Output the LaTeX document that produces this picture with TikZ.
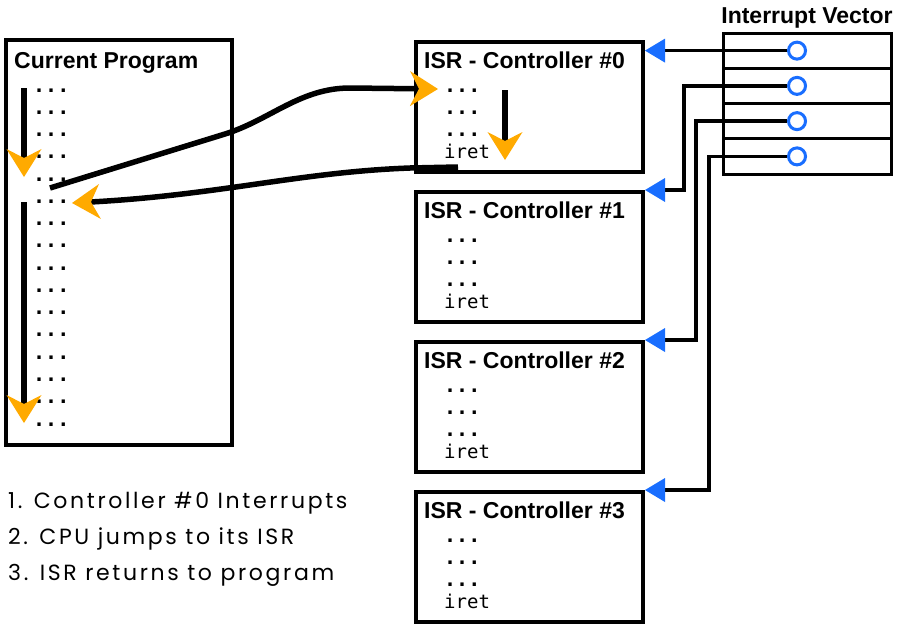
\documentclass[tikz,border=0pt]{standalone}
\usepackage{fontspec}
\setmainfont{Liberation Sans}
\newfontfamily\codefont{DejaVu Sans Mono}
\newfontfamily\notefont{Poppins}[LetterSpace=12]
\usetikzlibrary{arrows.meta}

\definecolor{flowor}{RGB}{255,170,0}
\definecolor{vecblue}{RGB}{25,110,255}

\tikzset{
  ochev/.tip={Stealth[length=28pt,width=35pt,inset=9pt,line width=0pt,color=flowor]},
  btri/.tip={Triangle[length=20pt,width=24pt,line width=0pt,color=vecblue]},
  panel/.style={draw=black,line width=4pt,fill=white,inner sep=0pt},
  slot/.style={draw=black,line width=3pt,fill=white,inner sep=0pt,minimum width=168pt,minimum height=35.25pt},
  port/.style={circle,draw=vecblue,line width=3pt,fill=white,inner sep=0pt,minimum size=17pt},
  heading/.style={font=\fontsize{23}{27}\selectfont\bfseries,inner sep=0pt,anchor=base west},
  code/.style={font=\codefont\fontsize{19}{22}\selectfont,inner sep=0pt,anchor=base west},
  dots/.style={font=\codefont\fontsize{20}{22}\selectfont\bfseries,inner sep=0pt,anchor=base west},
  note/.style={font=\notefont\fontsize{22}{26}\selectfont,inner sep=0pt,anchor=base west},
  flow/.style={draw=black,line width=5.5pt},
  link/.style={draw=black,line width=3.5pt,-btri},
}

\begin{document}
\begin{tikzpicture}[x=1pt,y=-1pt]
\useasboundingbox (0,0) rectangle (899,632);

% main program listing
\node[panel,minimum width=226pt,minimum height=405pt] (prog) at (119,242.5) {};
\node[heading] (progtitle) at (14,68) {Current Program};
\foreach \r in {0,...,15}
  \node[dots] (pl\r) at (33,{92+22.27*\r}) {...};

% interrupt service routines
\foreach \i/\y in {0/42,1/192,2/342,3/492}{
  \node[panel,minimum width=227pt,minimum height=130pt] (isr\i) at (529.5,\y+65) {};
  \node[heading] (isrtitle\i) at (424,\y+26) {ISR - Controller \#\i};
  \node[dots] (isra\i) at (444,\y+50) {...};
  \node[dots] (isrb\i) at (444,\y+72) {...};
  \node[dots] (isrc\i) at (444,\y+94) {...};
  \node[code] (isrret\i) at (444,\y+116) {iret};
}

% interrupt vector table
\node[font=\fontsize{23}{27}\selectfont\bfseries,inner sep=0pt,anchor=base] (vectitle) at (807,23) {Interrupt Vector};
\foreach \i in {0,...,3}{
  \node[slot] (row\i) at (807,{33+35.25*(\i+0.5)}) {};
}
\foreach \i in {0,...,3}
  \node[port] (c\i) at (797,{33+35.25*(\i+0.5)}) {};

% vector entries pointing to their routines
\draw[link] (c0.west) -- (c0.west -| isr0.east);
\draw[link] (c1.west) -| ([xshift=39pt]isr1.north east) -- (isr1.north east);
\draw[link] (c2.west) -| ([xshift=51pt]isr2.north east) -- (isr2.north east);
\draw[link] (c3.west) -| ([xshift=64pt]isr3.north east) -- (isr3.north east);

% execution flow
\coordinate (runa) at (24,88);
\coordinate (runb) at (24,177);
\coordinate (runc) at (24,202);
\coordinate (rund) at (24,423);
\draw[flow,-ochev] (runa) -- (runb);
\draw[flow,-ochev] (runc) -- (rund);

\coordinate (jump) at (50,188);
\coordinate (entry) at (438,89);
\draw[flow,-ochev] (jump) -- (225,134) .. controls (270,120) and (300,88) .. (350,88) -- (entry);

\coordinate (isrtop) at (505,90);
\coordinate (isrbot) at (505,160);
\draw[flow,-ochev] (isrtop) -- (isrbot);

\coordinate (back) at (458,167);
\coordinate (resume) at (72,203);
\draw[flow,-ochev] (back) -- (410,168) .. controls (300,172) and (220,195) .. (resume);

% steps
\node[note] (step1) at (8,508) {1. Controller \#0 Interrupts};
\node[note] (step2) at (8,544) {2. CPU jumps to its ISR};
\node[note] (step3) at (8,580) {3. ISR returns to program};
\end{tikzpicture}
\end{document}
